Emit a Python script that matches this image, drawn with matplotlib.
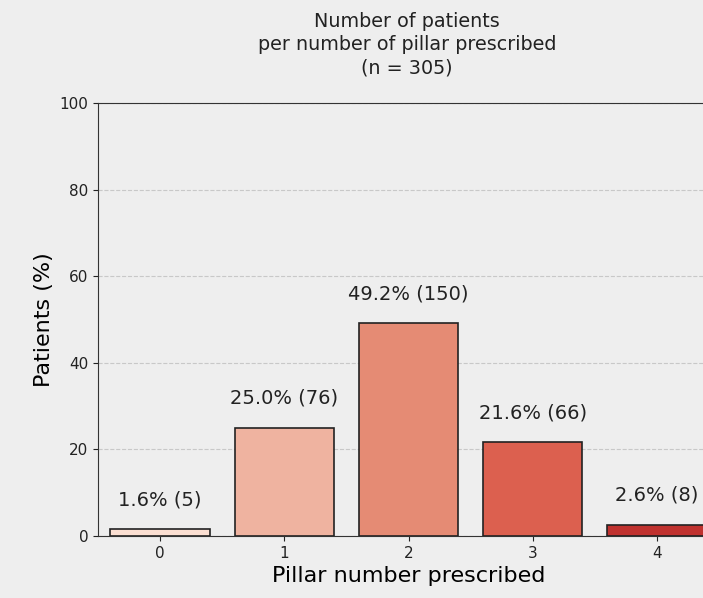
import matplotlib.pyplot as plt

pillars = [0, 1, 2, 3, 4]
pct = [1.6, 25.0, 49.2, 21.6, 2.6]
counts = [5, 76, 150, 66, 8]
n_total = 305
bar_colors = ["#fbdfd2", "#efb3a0", "#e58b74", "#dc604f", "#c0322f"]

fig = plt.figure(figsize=(7.03, 5.98), dpi=100)
fig.patch.set_facecolor("#eeeeee")
# axes run past the right edge, as in the reference crop
ax = fig.add_axes([0.1394, 0.1037, 0.8834, 0.7241])
ax.set_facecolor("#eeeeee")

ax.bar(pillars, pct, width=0.8, color=bar_colors, edgecolor="#222222", linewidth=1.2, zorder=3)
for x, p, c in zip(pillars, pct, counts):
    ax.text(x, p + 4.6, f"{p:.1f}% ({c})", ha="center", va="bottom", fontsize=14, color="#222222")

ax.set_xlim(-0.5, 4.5)
ax.set_ylim(0, 100)
ax.set_yticks([0, 20, 40, 60, 80, 100])
ax.set_xticks(pillars)
ax.tick_params(labelsize=11, colors="#222222")
ax.yaxis.grid(True, linestyle="--", color="#c8c8c8", linewidth=0.8, zorder=0)
for s in ax.spines.values():
    s.set_color("#333333")

ax.set_xlabel("Pillar number prescribed", fontsize=16, labelpad=4)
ax.set_ylabel("Patients (%)", fontsize=16)
fig.text(0.579, 0.98, "Number of patients\nper number of pillar prescribed\n(n = " + str(n_total) + ")",
         ha="center", va="top", fontsize=13.8, color="#222222", linespacing=1.27)

plt.savefig("out.png", facecolor=fig.get_facecolor())
